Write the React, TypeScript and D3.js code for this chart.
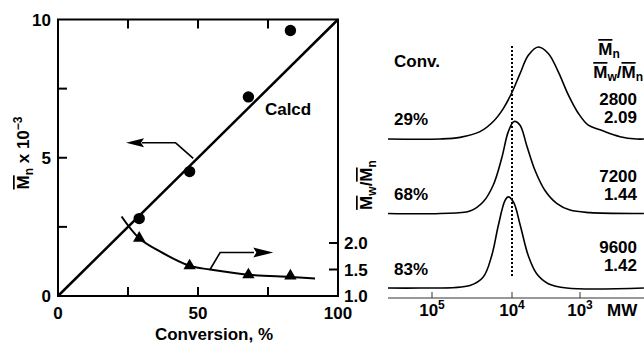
import * as d3 from "d3";

// left panel: Mn and Mw/Mn vs conversion
const conv = [29, 47, 68, 83];
const mnObs = [2.8, 4.5, 7.2, 9.6];
const pdiObs = [2.09, 1.57, 1.4, 1.38];
const calcConv = [0, 100];
const calcMn = [0, 10];
const fitConv = [22.7, 29, 36.4, 47, 54.3, 68.3, 83, 91.8];
const fitPdi = [2.5, 2.09, 1.84, 1.57, 1.5, 1.4, 1.36, 1.33];
const xTicks = [0, 50, 100];
const xMinor = [25, 50, 75];
const yTicks = [0, 5, 10];
const yMinor = [2.5, 5, 7.5];
const y2Ticks = [1.0, 1.5, 2.0];

// right panel: GPC traces (log10 MW, relative signal)
const traceConv = ["29%", "68%", "83%"];
const traceMn = ["2800", "7200", "9600"];
const tracePdi = ["2.09", "1.44", "1.42"];
const logMW1 = [5.55, 4.9, 4.65, 4.4, 4.234, 4.109, 4.004, 3.882, 3.76, 3.613, 3.466, 3.319, 3.172, 3.025, 2.878, 2.706, 2.41, 2.166, 2.06];
const sig1 = [0, 0, 0.018, 0.08, 0.19, 0.33, 0.5, 0.71, 0.91, 1.0, 0.93, 0.73, 0.48, 0.28, 0.15, 0.1, 0.025, 0, 0];
const logMW2 = [5.55, 4.9, 4.525, 4.359, 4.234, 4.129, 4.046, 3.97, 3.882, 3.784, 3.662, 3.515, 3.343, 3.147, 2.853, 2.12, 2.06];
const sig2 = [0, 0, 0.026, 0.127, 0.31, 0.6, 0.89, 1.0, 0.96, 0.74, 0.47, 0.25, 0.11, 0.037, 0.01, 0, 0];
const logMW3 = [5.55, 5.15, 4.525, 4.359, 4.254, 4.171, 4.088, 4.046, 3.976, 3.878, 3.76, 3.637, 3.466, 3.196, 2.06];
const sig3 = [0, 0, 0.028, 0.12, 0.35, 0.68, 0.95, 0.99, 0.93, 0.68, 0.35, 0.155, 0.047, 0, 0];
const mwTicks = [1e5, 1e4, 1e3];

const FONT = "'Liberation Sans', Arial, Helvetica, sans-serif";

export default function App() {
  const W = 644, H = 346;

  const x = d3.scaleLinear().domain([0, 100]).range([58, 338]);
  const y = d3.scaleLinear().domain([0, 10]).range([296, 19.5]);
  const y2 = d3.scaleLinear().domain([1, 2]).range([296, 243]);

  const mw = d3.scaleLog().domain([1e5, 1e4, 1e3]).range([432, 512, 580]);
  const base = d3.scalePoint().domain(traceConv).range([139, 288]);
  const amp = d3.scaleLinear().domain([0, 1]).range([0, 92]);

  const calcLine = d3.line<number>()
    .x((d, i) => x(calcConv[i]))
    .y((d) => y(d));
  const fitLine = d3.line<number>()
    .x((d, i) => x(fitConv[i]))
    .y((d) => y2(d))
    .curve(d3.curveCatmullRom);

  const traces = [
    { lm: logMW1, s: sig1 },
    { lm: logMW2, s: sig2 },
    { lm: logMW3, s: sig3 },
  ];

  const tri = d3.symbol().type(d3.symbolTriangle).size(66)();

  // arrow pointers (data coords)
  const leftArrow = [[48.3, 4.98], [42.0, 5.54], [30.0, 5.54]];
  const leftTip = [24.3, 5.54];
  const rightArrow = [[54.3, 1.5], [57.9, 1.82], [70.0, 1.82]];
  const rightTip = [76.9, 1.82];

  const txt = { fontFamily: FONT, fontWeight: 700, fontSize: 17, fill: "#000" } as const;
  const ov = { textDecoration: "overline" } as const;
  const SUB = 12;

  return (
    <svg width={W} height={H} style={{ position: "absolute", left: 0, top: 0, background: "#fff" }}>
      {/* ---------- left panel ---------- */}
      <rect x={x(0)} y={y(10)} width={x(100) - x(0)} height={y(0) - y(10)} fill="none" stroke="#000" strokeWidth={2} />
      {xMinor.map((t) => (
        <g key={"xm" + t}>
          <line x1={x(t)} x2={x(t)} y1={y(0)} y2={y(0) - 9} stroke="#000" strokeWidth={2} />
          <line x1={x(t)} x2={x(t)} y1={y(10)} y2={y(10) + 9} stroke="#000" strokeWidth={2} />
        </g>
      ))}
      {yMinor.map((t) => (
        <line key={"ym" + t} x1={x(0)} x2={x(0) + 9} y1={y(t)} y2={y(t)} stroke="#000" strokeWidth={2} />
      ))}
      {[1.5, 2.0].map((t) => (
        <line key={"y2m" + t} x1={x(100)} x2={x(100) - 9} y1={y2(t)} y2={y2(t)} stroke="#000" strokeWidth={2} />
      ))}
      {xTicks.map((t) => (
        <text key={"xt" + t} x={x(t)} y={319} textAnchor="middle" style={txt}>{t}</text>
      ))}
      {yTicks.map((t) => (
        <text key={"yt" + t} x={51} y={y(t) + 6} textAnchor="end" style={txt}>{t}</text>
      ))}
      {y2Ticks.map((t) => (
        <text key={"y2t" + t} x={344} y={y2(t) + 6} textAnchor="start" style={txt}>{t.toFixed(1)}</text>
      ))}
      <text x={214} y={340} textAnchor="middle" style={txt}>Conversion, %</text>
      <text transform="translate(29,153) rotate(-90)" textAnchor="middle" style={txt}>
        <tspan style={ov}>M</tspan>
        <tspan dy={4} fontSize={SUB}>n</tspan>
        <tspan dy={-4}> x 10</tspan>
        <tspan dy={-7} fontSize={SUB}>−3</tspan>
      </text>
      <text transform="translate(372,185) rotate(-90)" textAnchor="middle" style={txt}>
        <tspan style={ov}>M</tspan>
        <tspan dy={4} fontSize={SUB}>w</tspan>
        <tspan dy={-4}>/</tspan>
        <tspan style={ov}>M</tspan>
        <tspan dy={4} fontSize={SUB}>n</tspan>
      </text>

      <path d={calcLine(calcMn) || ""} fill="none" stroke="#000" strokeWidth={2.5} />
      <path d={fitLine(fitPdi) || ""} fill="none" stroke="#000" strokeWidth={2} />
      {conv.map((c, i) => (
        <circle key={"c" + c} cx={x(c)} cy={y(mnObs[i])} r={5.7} fill="#000" />
      ))}
      {conv.map((c, i) => (
        <path key={"t" + c} d={tri || ""} transform={`translate(${x(c)},${y2(pdiObs[i])})`} fill="#000" />
      ))}
      <text x={x(73.9)} y={y(6.55)} style={txt}>Calcd</text>

      <polyline points={leftArrow.map((p) => `${x(p[0])},${y(p[1])}`).join(" ")} fill="none" stroke="#000" strokeWidth={1.6} />
      <polygon
        points={`${x(leftTip[0])},${y(leftTip[1])} ${x(leftTip[0]) + 18},${y(leftTip[1]) - 4.5} ${x(leftTip[0]) + 15},${y(leftTip[1])} ${x(leftTip[0]) + 18},${y(leftTip[1]) + 4.5}`}
        fill="#000"
      />
      <polyline points={rightArrow.map((p) => `${x(p[0])},${y2(p[1])}`).join(" ")} fill="none" stroke="#000" strokeWidth={1.6} />
      <polygon
        points={`${x(rightTip[0])},${y2(rightTip[1])} ${x(rightTip[0]) - 20},${y2(rightTip[1]) - 5} ${x(rightTip[0]) - 17},${y2(rightTip[1])} ${x(rightTip[0]) - 20},${y2(rightTip[1]) + 5}`}
        fill="#000"
      />

      {/* ---------- right panel ---------- */}
      {traces.map((tr, k) => {
        const b = base(traceConv[k]) as number;
        const line = d3.line<number>()
          .x((d) => mw(Math.pow(10, d)))
          .y((d, i) => b - amp(tr.s[i]))
          .curve(d3.curveCatmullRom);
        return <path key={"tr" + k} d={line(tr.lm) || ""} fill="none" stroke="#000" strokeWidth={1.6} />;
      })}
      <line x1={mw(1e4)} x2={mw(1e4)} y1={46} y2={278} stroke="#000" strokeWidth={2} strokeDasharray="2,2" />
      <line x1={388} x2={644} y1={298} y2={298} stroke="#333" strokeWidth={1} />
      {mwTicks.map((t) => (
        <g key={"mw" + t}>
          <line x1={mw(t)} x2={mw(t)} y1={298} y2={292} stroke="#333" strokeWidth={1} />
          <text x={mw(t)} y={316} textAnchor="middle" style={txt}>
            10<tspan dy={-7} fontSize={SUB}>{Math.round(Math.log10(t))}</tspan>
          </text>
        </g>
      ))}
      <text x={607} y={316} style={txt}>MW</text>

      <text x={394} y={67} style={txt}>Conv.</text>
      {traceConv.map((c, k) => (
        <text key={"cv" + c} x={394} y={[125, 200, 275][k]} style={txt}>{c}</text>
      ))}
      <text x={609} y={55} textAnchor="middle" style={txt}>
        <tspan style={ov}>M</tspan>
        <tspan dy={3} fontSize={SUB}>n</tspan>
      </text>
      <text x={643} y={78} textAnchor="end" style={txt}>
        <tspan style={ov}>M</tspan>
        <tspan dy={3} fontSize={SUB}>w</tspan>
        <tspan dy={-3}>/</tspan>
        <tspan style={ov}>M</tspan>
        <tspan dy={3} fontSize={SUB}>n</tspan>
      </text>
      {traceMn.map((m, k) => (
        <g key={"mn" + m}>
          <text x={637} y={[105, 182, 253][k]} textAnchor="end" style={txt}>{m}</text>
          <text x={637} y={[123, 200, 271][k]} textAnchor="end" style={txt}>{tracePdi[k]}</text>
        </g>
      ))}
    </svg>
  );
}
